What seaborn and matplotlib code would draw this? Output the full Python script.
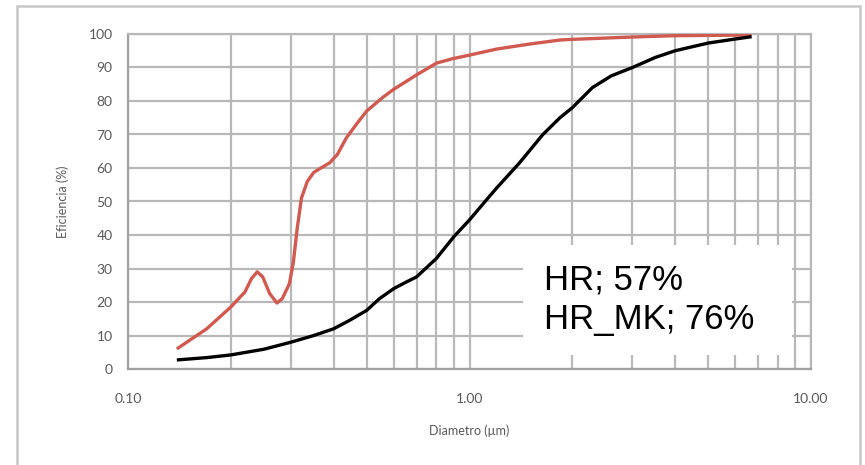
import numpy as np
import pandas as pd
import matplotlib
matplotlib.use("Agg")
import matplotlib.pyplot as plt
import matplotlib.ticker as mticker
from matplotlib.patches import Rectangle
import seaborn as sns

# Collection efficiency versus particle diameter
hr_mk_diam = [0.139, 0.17, 0.2, 0.22, 0.23, 0.239, 0.248, 0.26, 0.273, 0.283,
              0.297, 0.305, 0.313, 0.322, 0.335, 0.35, 0.37, 0.389, 0.41, 0.436,
              0.47, 0.5, 0.556, 0.6, 0.7, 0.8, 0.89, 1.0, 1.2, 1.5,
              1.84, 2.0, 3.0, 4.0, 6.7]
hr_mk_eff = [6, 12, 18.5, 23, 27, 29, 27.5, 22.5, 19.7, 21,
             25.5, 32, 42, 51, 56, 58.7, 60.2, 61.5, 64, 69,
             73.5, 77, 81, 83.5, 87.8, 91.3, 92.6, 93.7, 95.5, 97,
             98.2, 98.4, 99.1, 99.5, 99.7]

hr_diam = [0.139, 0.17, 0.2, 0.25, 0.3, 0.35, 0.4, 0.445, 0.5, 0.545,
           0.6, 0.654, 0.7, 0.8, 0.9, 1.0, 1.1, 1.2, 1.4, 1.64,
           1.84, 2.0, 2.29, 2.6, 3.0, 3.5, 4.0, 5.0, 6.0, 6.7]
hr_eff = [2.7, 3.4, 4.2, 5.9, 8, 10, 12, 14.5, 17.5, 21,
          24, 26, 27.5, 33, 39.5, 44.5, 49.5, 54, 61.5, 70,
          75, 78, 84, 87.5, 90, 93, 95, 97.3, 98.5, 99.2]

x_ticks = [0.1, 1.0, 10.0]
x_tick_labels = ["0.10", "1.00", "10.00"]
y_ticks = list(range(0, 101, 10))
summary_text = "HR; 57%\nHR_MK; 76%"

df = pd.concat([
    pd.DataFrame({"diam": hr_mk_diam, "eff": hr_mk_eff, "serie": "HR_MK"}),
    pd.DataFrame({"diam": hr_diam, "eff": hr_eff, "serie": "HR"}),
], ignore_index=True)

sns.set_style("white")
plt.rcParams["font.family"] = ["Lato", "DejaVu Sans"]

grid_col = "#b8b8b8"
text_col = "#595959"

fig = plt.figure(figsize=(8.65, 4.65), dpi=100)
ax = fig.add_axes([128 / 865, 1 - 369 / 465, (811 - 128) / 865, (369 - 34) / 465])

sns.lineplot(data=df, x="diam", y="eff", hue="serie",
             palette={"HR_MK": "#d05a50", "HR": "#000000"},
             linewidth=2.4, legend=False, ax=ax, sort=False, zorder=3,
             solid_joinstyle="round", solid_capstyle="butt")

ax.set_xscale("log")
ax.set_xlim(0.1, 10)
ax.set_ylim(0, 100)

ax.xaxis.set_major_locator(mticker.FixedLocator(x_ticks))
ax.xaxis.set_major_formatter(mticker.FixedFormatter(x_tick_labels))
ax.xaxis.set_minor_locator(mticker.LogLocator(base=10, subs=np.arange(2, 10)))
ax.xaxis.set_minor_formatter(mticker.NullFormatter())
ax.set_yticks(y_ticks)

ax.grid(True, which="both", axis="x", color=grid_col, linewidth=1.6)
ax.grid(True, which="major", axis="y", color=grid_col, linewidth=1.6)
ax.set_axisbelow(True)

for side in ["top", "right"]:
    ax.spines[side].set_color(grid_col)
    ax.spines[side].set_linewidth(1.6)
for side in ["left", "bottom"]:
    ax.spines[side].set_color("#a0a0a0")
    ax.spines[side].set_linewidth(1.6)

ax.tick_params(axis="both", which="major", direction="out", length=5,
               width=1.3, color="#a0a0a0", labelsize=10, labelcolor=text_col)
ax.tick_params(axis="x", which="minor", length=0)
ax.tick_params(axis="x", which="major", pad=12)
ax.tick_params(axis="y", which="major", pad=6)

ax.set_xlabel("Diametro (\u00b5m)", fontsize=9, color=text_col, labelpad=14)
ax.set_ylabel("Eficiencia (%)", fontsize=9, color=text_col, labelpad=14)

# Chart area border
fig.patches.append(Rectangle((17 / 865, -0.05), (860 - 17) / 865, 1.05 - 6 / 465,
                             transform=fig.transFigure, fill=False,
                             edgecolor="#c8c8c8", linewidth=1.8))

# Summary box
fig.patches.append(Rectangle((523 / 865, 1 - 355 / 465), (792 - 523) / 865, 110 / 465,
                             transform=fig.transFigure, facecolor="white",
                             edgecolor="none", zorder=5))
fig.text(544 / 865, 1 - 264 / 465, summary_text, fontsize=25,
         family=["Liberation Sans", "DejaVu Sans"], color="black",
         ha="left", va="top", linespacing=1.25, zorder=6)

fig.savefig("out.png", dpi=100)
